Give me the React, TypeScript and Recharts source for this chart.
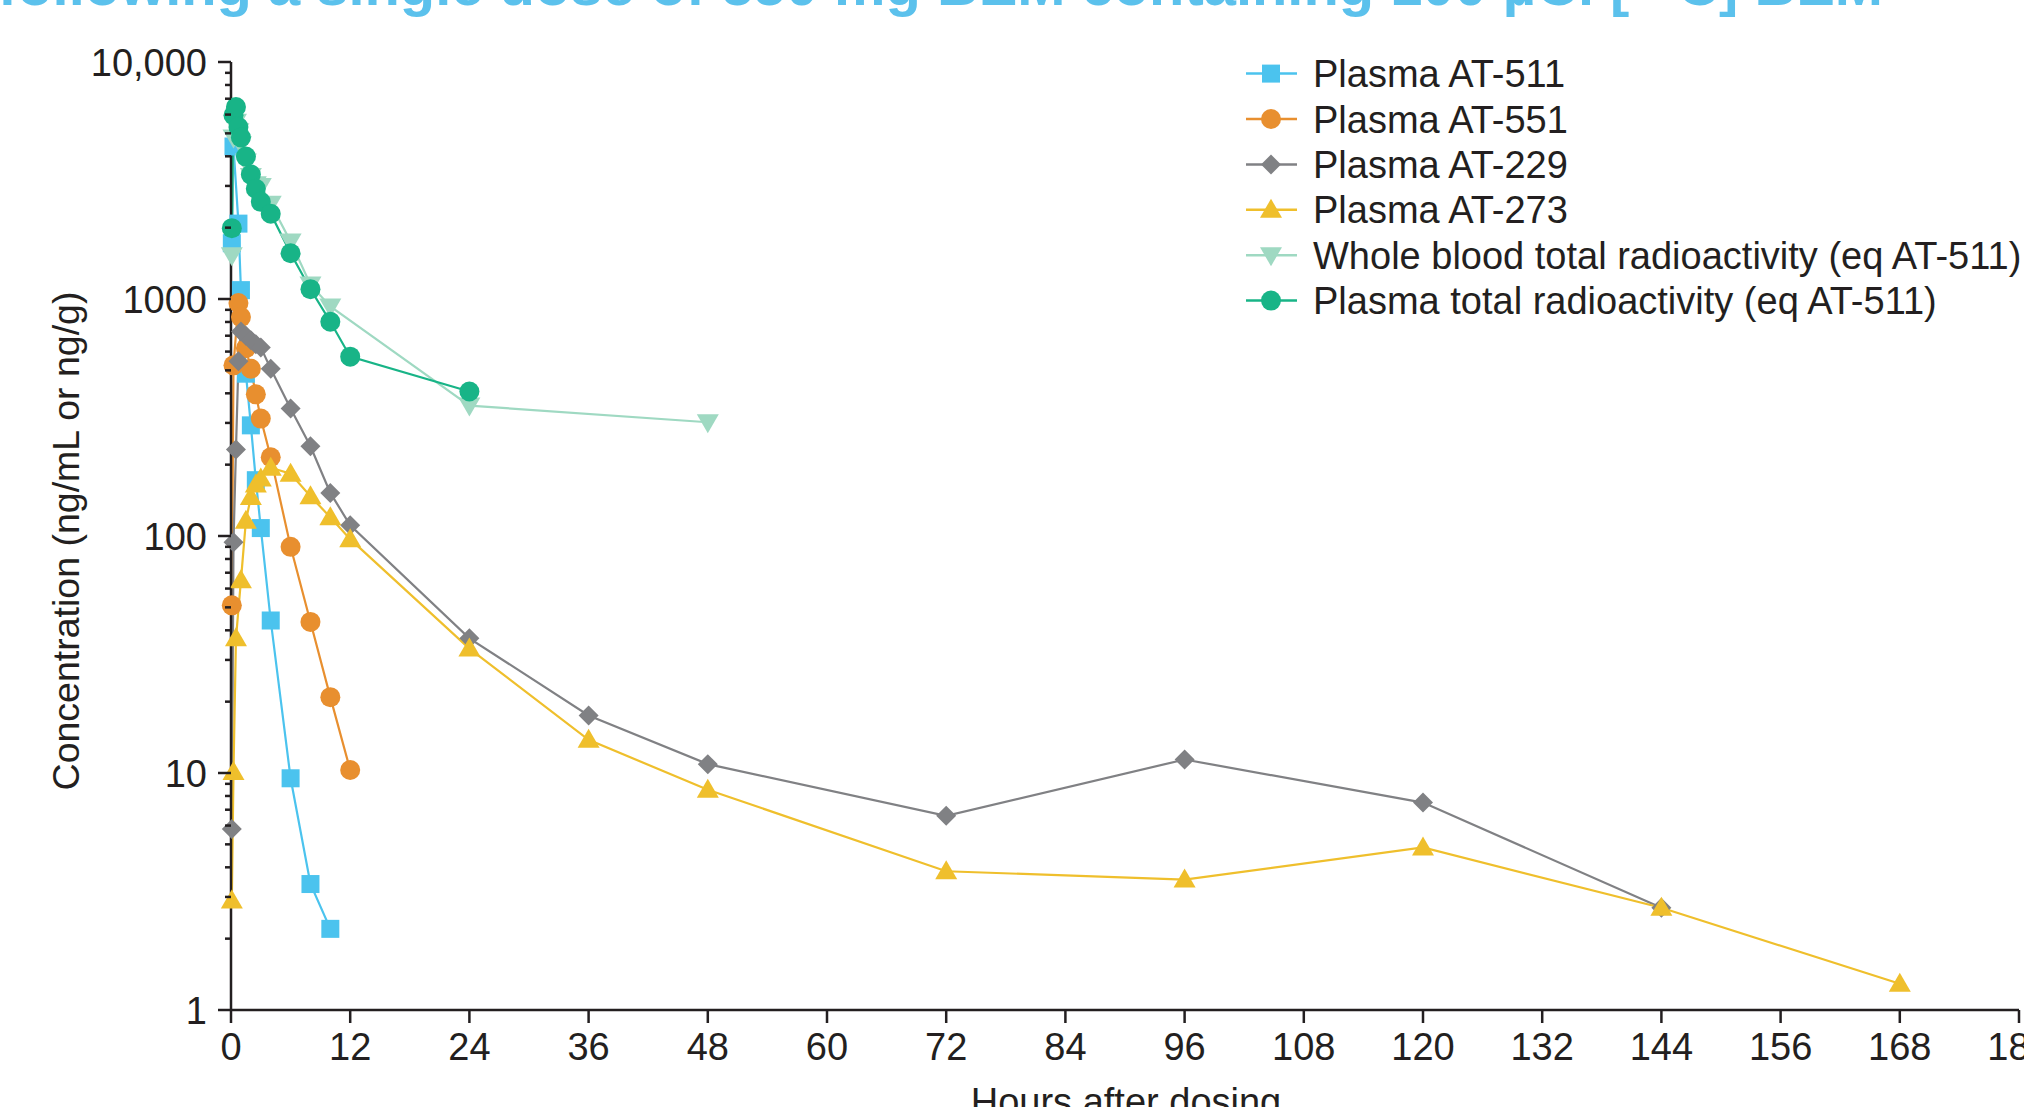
import React from 'react';
import { LineChart, Line, XAxis, YAxis } from 'recharts';

const FONT = '"Liberation Sans", Arial, Helvetica, sans-serif';
const INK = '#231F20';

const titleText = 'following a single dose of 550 mg BEM containing 100 µCi [¹⁴C] BEM';
const xAxisTitle = 'Hours after dosing';
const yAxisTitle = 'Concentration (ng/mL or ng/g)';

const seriesNames = [
  'Plasma AT-511',
  'Plasma AT-551',
  'Plasma AT-229',
  'Plasma AT-273',
  'Whole blood total radioactivity (eq AT-511)',
  'Plasma total radioactivity (eq AT-511)',
];
const seriesColors = ['#4BC3EE', '#E88F2F', '#808184', '#EFBF2C', '#9FD9C2', '#18B487'];
const seriesShapes = ['square', 'circle', 'diamond', 'triUp', 'triDown', 'circle'];

const at511Hours = [0.083, 0.25, 0.75, 1, 1.5, 2, 2.5, 3, 4, 6, 8, 10];
const at511Conc = [1720, 4400, 2080, 1090, 484, 293, 172, 108, 44, 9.5, 3.4, 2.2];

const at551Hours = [0.083, 0.25, 0.75, 1, 1.5, 2, 2.5, 3, 4, 6, 8, 10, 12];
const at551Conc = [51, 525, 962, 839, 620, 508, 396, 313, 215, 90, 43.4, 20.9, 10.3];

const at229Hours = [0.083, 0.25, 0.5, 0.75, 1, 1.5, 2, 2.5, 3, 4, 6, 8, 10, 12, 24, 36, 48, 72, 96, 120, 144];
const at229Conc = [5.8, 94, 232, 546, 730, 700, 670, 645, 625, 508, 345, 239, 152, 111, 37, 17.5, 10.9, 6.6, 11.4, 7.5, 2.7];

const at273Hours = [0.083, 0.25, 0.5, 1, 1.5, 2, 2.5, 3, 4, 6, 8, 10, 12, 24, 36, 48, 72, 96, 120, 144, 168];
const at273Conc = [2.9, 10.1, 37, 65, 116, 146, 165, 175, 194, 183, 147, 120, 97, 33.5, 13.8, 8.5, 3.85, 3.55, 4.85, 2.7, 1.29];

const bloodHours = [0.083, 0.25, 0.5, 0.75, 1, 1.5, 2, 2.5, 3, 4, 6, 8, 10, 24, 48];
const bloodConc = [1530, 4800, 5600, 5100, 4500, 3800, 3300, 3050, 3000, 2520, 1750, 1150, 930, 355, 302];

const plasmaTrHours = [0.083, 0.25, 0.5, 0.75, 1, 1.5, 2, 2.5, 3, 4, 6, 8, 10, 12, 24];
const plasmaTrConc = [1990, 5960, 6460, 5320, 4800, 3990, 3350, 2920, 2570, 2290, 1560, 1100, 802, 571, 407];

const xTicks = [0, 12, 24, 36, 48, 60, 72, 84, 96, 108, 120, 132, 144, 156, 168, 180];
const yMajorTicks = [1, 10, 100, 1000, 10000];
const yMajorLabels = ['1', '10', '100', '1000', '10,000'];
const yMinorTicks = [2, 3, 4, 5, 6, 7, 8, 9, 20, 30, 40, 50, 60, 70, 80, 90, 200, 300, 400, 500, 600, 700, 800, 900, 2000, 3000, 4000, 5000, 6000, 7000, 8000, 9000];

const toPoints = (hours: number[], conc: number[]) => hours.map((t, i) => ({ t, v: conc[i] }));

const seriesData = [
  toPoints(at511Hours, at511Conc),
  toPoints(at551Hours, at551Conc),
  toPoints(at229Hours, at229Conc),
  toPoints(at273Hours, at273Conc),
  toPoints(bloodHours, bloodConc),
  toPoints(plasmaTrHours, plasmaTrConc),
];

function Marker({ shape, cx, cy, color }: { shape: string; cx: number; cy: number; color: string }) {
  if (cx == null || cy == null || isNaN(cx) || isNaN(cy)) return null;
  switch (shape) {
    case 'square':
      return <rect x={cx - 9} y={cy - 9} width={18} height={18} fill={color} />;
    case 'circle':
      return <circle cx={cx} cy={cy} r={10} fill={color} />;
    case 'diamond':
      return <polygon points={`${cx},${cy - 10} ${cx + 10},${cy} ${cx},${cy + 10} ${cx - 10},${cy}`} fill={color} />;
    case 'triUp':
      return <polygon points={`${cx},${cy - 11} ${cx + 11},${cy + 8} ${cx - 11},${cy + 8}`} fill={color} />;
    case 'triDown':
      return <polygon points={`${cx - 11},${cy - 8} ${cx + 11},${cy - 8} ${cx},${cy + 11}`} fill={color} />;
    default:
      return null;
  }
}

const YTick = (props: any) => {
  const { x, y, payload } = props;
  const idx = yMajorTicks.indexOf(payload.value);
  const major = idx >= 0;
  return (
    <g>
      <line x1={x - (major ? 13 : 6)} x2={x} y1={y} y2={y} stroke={INK} strokeWidth={2.5} />
      {major && (
        <text x={x - 24} y={y} dy="0.36em" textAnchor="end" fontSize={38} fill={INK} fontFamily={FONT}>
          {yMajorLabels[idx]}
        </text>
      )}
    </g>
  );
};

const legendTop = 73.6;
const legendStep = 45.4;

export default function App() {
  return (
    <div style={{ position: 'absolute', left: 0, top: 0, width: 2024, height: 1107, overflow: 'hidden', background: '#fff' }}>
      <LineChart width={2040} height={1107} margin={{ top: 62, right: 21, bottom: 37, left: 0 }}>
        <XAxis
          type="number"
          dataKey="t"
          domain={[0, 180]}
          ticks={xTicks}
          interval={0}
          tickSize={13}
          tickMargin={10}
          height={60}
          axisLine={{ stroke: INK, strokeWidth: 2.5 }}
          tickLine={{ stroke: INK, strokeWidth: 2.5 }}
          tick={{ fontSize: 38, fill: INK, fontFamily: FONT }}
          allowDuplicatedCategory={false}
        />
        <YAxis
          scale="log"
          domain={[1, 10000]}
          ticks={[...yMajorTicks, ...yMinorTicks]}
          interval={0}
          allowDataOverflow
          width={231}
          tickSize={0}
          tickMargin={0}
          tickLine={false}
          axisLine={{ stroke: INK, strokeWidth: 2.5 }}
          tick={<YTick />}
        />
        {seriesData.map((d, i) => (
          <Line
            key={seriesNames[i]}
            data={d}
            dataKey="v"
            name={seriesNames[i]}
            type="linear"
            stroke={seriesColors[i]}
            strokeWidth={2.2}
            isAnimationActive={false}
            activeDot={false}
            dot={(p: any) => (
              <Marker key={`${i}-${p.index}`} shape={seriesShapes[i]} cx={p.cx} cy={p.cy} color={seriesColors[i]} />
            )}
          />
        ))}
      </LineChart>
      <svg width={2024} height={1107} style={{ position: 'absolute', left: 0, top: 0, pointerEvents: 'none' }}>
        <text x={-2} y={5} fontSize={57} fontWeight="bold" fill="#5BC1EC" fontFamily={FONT} textLength={1885} lengthAdjust="spacingAndGlyphs">
          {titleText}
        </text>
        <text
          x={0}
          y={0}
          transform="translate(79,541) rotate(-90)"
          textAnchor="middle"
          fontSize={37.5}
          fill={INK}
          fontFamily={FONT}
        >
          {yAxisTitle}
        </text>
        <text x={1126} y={1115} textAnchor="middle" fontSize={38} fill={INK} fontFamily={FONT}>
          {xAxisTitle}
        </text>
        {seriesNames.map((name, i) => {
          const cy = legendTop + i * legendStep;
          return (
            <g key={name}>
              <line x1={1246} x2={1297} y1={cy} y2={cy} stroke={seriesColors[i]} strokeWidth={2.5} />
              <Marker shape={seriesShapes[i]} cx={1271} cy={cy} color={seriesColors[i]} />
              <text x={1313} y={cy} dy="0.36em" fontSize={38} fill={INK} fontFamily={FONT}>
                {name}
              </text>
            </g>
          );
        })}
      </svg>
    </div>
  );
}
